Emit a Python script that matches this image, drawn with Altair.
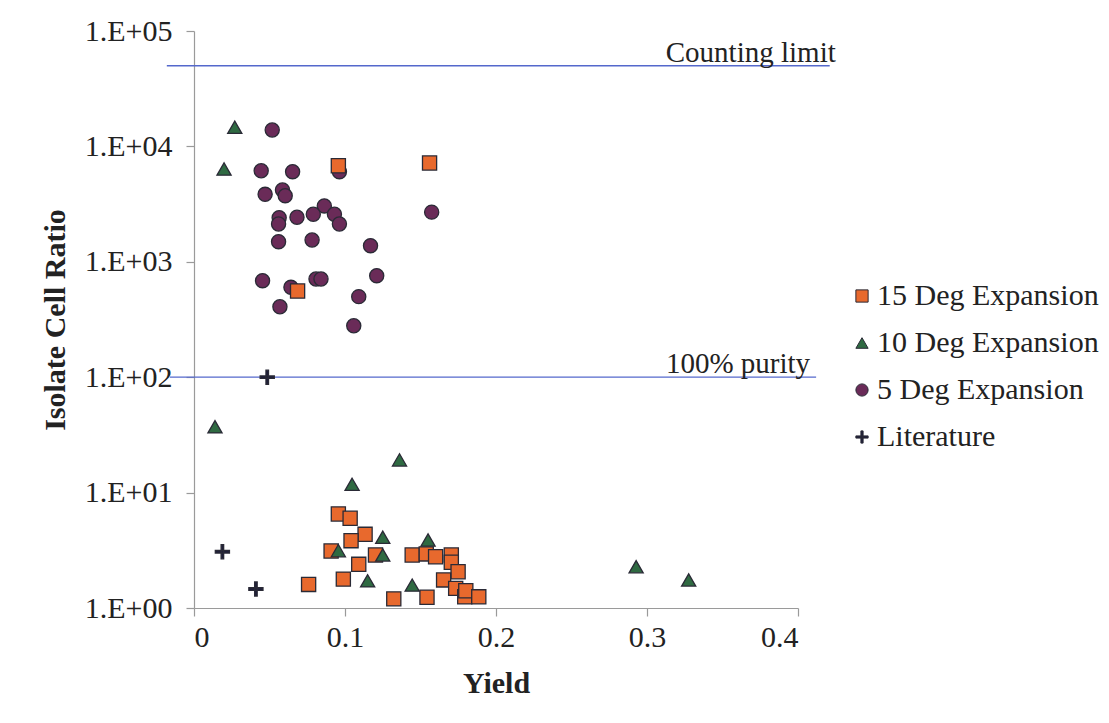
import altair as alt
import pandas as pd

# ---- data ----
series_names = ["15 Deg Expansion", "10 Deg Expansion", "5 Deg Expansion", "Literature"]

deg5_yield = [0.0518, 0.0445, 0.0653, 0.0963, 0.0471, 0.0586, 0.0604, 0.0863, 0.0790, 0.0930,
              0.0682, 0.0564, 0.0560, 0.0963, 0.0560, 0.0782, 0.1169, 0.0454, 0.0642, 0.0808,
              0.0841, 0.1210, 0.1091, 0.0569, 0.1058, 0.1574]
deg5_ratio = [13870, 6155, 6040, 6040, 3845, 4190, 3740, 3048, 2582, 2582,
              2431, 2412, 2128, 2128, 1494, 1545, 1379, 686, 601, 709,
              709, 758, 499, 408, 279, 2694]

deg15_yield = [0.0956, 0.1560, 0.0686, 0.0956, 0.1034, 0.1133, 0.1040, 0.0908, 0.1202, 0.1445,
               0.1538, 0.1600, 0.1704, 0.1704, 0.1749, 0.1091, 0.0989, 0.0759, 0.1653, 0.1733,
               0.1793, 0.1800, 0.1886, 0.1323, 0.1543]
deg15_ratio = [6800, 7180, 558, 6.53, 5.99, 4.35, 3.83, 3.12, 2.88, 2.88,
               2.94, 2.78, 2.88, 2.49, 2.06, 2.39, 1.78, 1.60, 1.75, 1.48,
               1.25, 1.41, 1.25, 1.20, 1.24]

deg10_yield = [0.0270, 0.0199, 0.0139, 0.1361, 0.1047, 0.1250, 0.1550, 0.0956, 0.1250, 0.1150,
               0.1445, 0.2928, 0.3276]
deg10_ratio = [14650, 6370, 37.2, 19.2, 11.8, 4.10, 3.88, 3.14, 2.88, 1.72,
               1.58, 2.28, 1.75]

lit_yield = [0.0188, 0.0410, 0.0485]
lit_ratio = [3.07, 1.46, 100]

ref_labels = ["Counting limit", "100% purity"]
ref_values = [50000, 100]
ref_x_start = [-0.018, -0.016]
ref_x_end = [0.421, 0.412]
ref_label_x = [0.425, 0.408]

x_ticks = [0, 0.1, 0.2, 0.3, 0.4]
y_ticks = [1, 10, 100, 1000, 10000, 100000]

colors = ["#E8692D", "#2F6A42", "#6A2B58", "#1E1E3A"]
cross_path = "M-1,-0.18H1V0.18H-1Z M-0.18,-1H0.18V1H-0.18Z"
shapes = ["square", "triangle-up", "circle", cross_path]

# ---- build table ----
rows = []
for n, xs, ys in [
    (series_names[2], deg5_yield, deg5_ratio),
    (series_names[0], deg15_yield, deg15_ratio),
    (series_names[1], deg10_yield, deg10_ratio),
    (series_names[3], lit_yield, lit_ratio),
]:
    for a, b in zip(xs, ys):
        rows.append({"series": n, "yield": a, "ratio": b})
df = pd.DataFrame(rows)

ref_df = pd.DataFrame({"label": ref_labels, "value": ref_values,
                       "x0": ref_x_start, "x1": ref_x_end, "lx": ref_label_x})

FONT = "Liberation Serif"

xscale = alt.Scale(domain=[0, 0.4], nice=False, zero=False)
yscale = alt.Scale(type="log", domain=[1, 100000], nice=False)

points = alt.Chart(df).mark_point(
    filled=True, size=200, opacity=1, stroke="#2a2a36", strokeWidth=1.3
).encode(
    x=alt.X("yield:Q", scale=xscale,
            axis=alt.Axis(title="Yield", values=x_ticks, format="~g", grid=False,
                          tickSize=8, labelPadding=6, titlePadding=16)),
    y=alt.Y("ratio:Q", scale=yscale,
            axis=alt.Axis(title="Isolate Cell Ratio", values=y_ticks, grid=False,
                          labelExpr="'1.E+0' + round(log(datum.value)/LN10)",
                          tickSize=8, labelPadding=14, titlePadding=14)),
    color=alt.Color("series:N", scale=alt.Scale(domain=series_names, range=colors),
                    legend=alt.Legend(title=None, orient="none", legendX=653, legendY=250,
                                      labelFont=FONT, labelFontSize=30, labelColor="#222",
                                      labelLimit=400,
                                      symbolSize=150, rowPadding=17, padding=0,
                                      symbolStrokeColor="#2a2a36", symbolStrokeWidth=1,
                                      labelOffset=0)),
    shape=alt.Shape("series:N", scale=alt.Scale(domain=series_names, range=shapes),
                    legend=None),
)

rules = alt.Chart(ref_df).mark_rule(color="#5468CC", strokeWidth=1.3, clip=False).encode(
    x=alt.X("x0:Q", scale=xscale), x2="x1:Q",
    y=alt.Y("value:Q", scale=yscale),
)

texts = alt.Chart(ref_df).mark_text(
    align="right", baseline="alphabetic", dy=-4, font=FONT, fontSize=29, color="#222"
).encode(
    x=alt.X("lx:Q", scale=xscale),
    y=alt.Y("value:Q", scale=yscale),
    text="label:N",
)

chart = alt.layer(rules, texts, points).properties(
    width=604, height=577,
    autosize=alt.AutoSizeParams(type="none"),
    padding={"left": 194, "top": 31, "right": 311, "bottom": 115},
    background="white",
).configure_view(stroke=None).configure_axis(
    labelFont=FONT, labelFontSize=30, labelColor="#222",
    titleFont=FONT, titleFontSize=30, titleFontWeight="bold", titleColor="#222",
    domainColor="#9a9a9a", tickColor="#9a9a9a", domainWidth=1.2, tickWidth=1.2,
)

chart.save("out.html", embed_options={"renderer": "svg", "actions": False})
